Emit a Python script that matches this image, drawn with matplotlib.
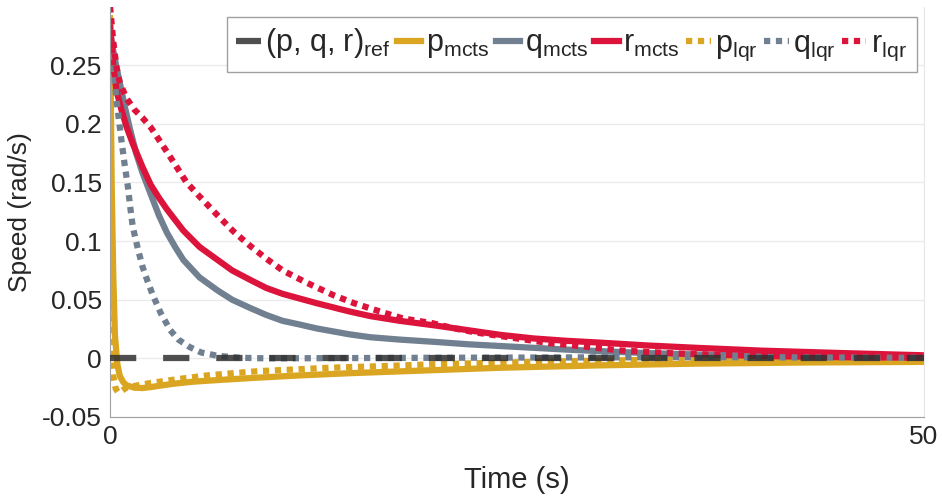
import matplotlib
matplotlib.use("Agg")
import matplotlib.pyplot as plt

plt.rcParams['font.family'] = ['Liberation Sans', 'DejaVu Sans']
plt.rcParams['mathtext.fontset'] = 'custom'
plt.rcParams['mathtext.rm'] = 'Liberation Sans'
plt.rcParams['mathtext.it'] = 'Liberation Sans'

# valores (tiempo en s, velocidad en rad/s)
t_ref = [0, 50]
v_ref = [0, 0]

t_p_mcts = [0, 0.05, 0.1, 0.2, 0.3, 0.45, 0.6, 0.8, 1.0, 1.5, 2, 2.5, 3.2, 4, 5, 6.6, 9,
            11.7, 15, 18, 21, 24, 27, 30, 36, 43, 50]
p_mcts = [0.29, 0.22, 0.15, 0.07, 0.02, -0.005, -0.015, -0.02, -0.023, -0.025, -0.0253,
          -0.0245, -0.023, -0.0215, -0.02, -0.0185, -0.0165, -0.0145, -0.0125, -0.011,
          -0.0095, -0.008, -0.007, -0.006, -0.0045, -0.0035, -0.003]

t_q_mcts = [0, 0.2, 0.4, 0.6, 0.9, 1.2, 1.6, 2, 2.5, 3, 3.5, 4, 4.5, 5.5, 6.6, 7.5, 8.6,
            9.6, 10.6, 11.6, 12.7, 14.7, 16, 17.8, 20, 22, 24, 26, 28, 30, 33, 36, 40, 45, 50]
q_mcts = [0.278, 0.262, 0.248, 0.235, 0.215, 0.197, 0.175, 0.158, 0.14, 0.122, 0.107,
          0.095, 0.084, 0.069, 0.058, 0.05, 0.043, 0.037, 0.032, 0.029, 0.0255, 0.0205,
          0.018, 0.016, 0.014, 0.012, 0.0105, 0.009, 0.0075, 0.0062, 0.0045, 0.0033,
          0.0022, 0.0013, 0.0008]

t_r_mcts = [0, 0.2, 0.4, 0.7, 1, 1.4, 2, 2.5, 3, 3.5, 4, 4.5, 5.5, 6.6, 7.5, 8.6, 9.6, 10.6,
            12.7, 14.7, 16, 17.8, 20, 22, 24, 26, 28, 30, 33, 36, 40, 45, 50]
r_mcts = [0.285, 0.25, 0.228, 0.212, 0.198, 0.183, 0.163, 0.148, 0.137, 0.127, 0.118,
          0.109, 0.095, 0.084, 0.075, 0.067, 0.06, 0.055, 0.047, 0.04, 0.036, 0.032, 0.028,
          0.024, 0.02, 0.017, 0.015, 0.0135, 0.011, 0.009, 0.0066, 0.0045, 0.0026]

t_p_lqr = [0, 0.05, 0.1, 0.2, 0.35, 0.5, 0.7, 1.0, 1.5, 2.5, 4, 6, 9, 13.5, 17, 20, 26,
           32, 40, 50]
p_lqr = [0.29, 0.12, 0.0, -0.015, -0.026, -0.029, -0.028, -0.025, -0.0235, -0.021,
         -0.018, -0.0145, -0.011, -0.008, -0.0065, -0.005, -0.003, -0.0015, -0.001, -0.0005]

t_q_lqr = [0, 0.2, 0.4, 0.55, 0.7, 0.9, 1.1, 1.25, 1.4, 1.7, 2, 2.3, 2.6, 3.1, 3.7, 4.2,
           4.9, 5.6, 6.6, 8, 9.6, 20, 35, 50]
q_lqr = [0.28, 0.25, 0.22, 0.203, 0.186, 0.165, 0.146, 0.128, 0.112, 0.094, 0.078,
         0.066, 0.055, 0.039, 0.024, 0.016, 0.0096, 0.005, 0.0022, 0.0005, 0.0, 0.0005,
         0.001, 0.0005]

t_r_lqr = [0, 0.1, 0.2, 0.4, 0.6, 1, 1.5, 2, 2.5, 3.5, 4.7, 5.5, 6.6, 7.6, 8.6, 9.6, 10.6,
           12, 13.7, 15, 16.8, 18, 19.8, 21, 22.5, 24, 25.8, 27, 28.5, 30, 31.3, 33, 35,
           37.5, 40, 45, 50]
r_lqr = [0.30, 0.285, 0.27, 0.248, 0.235, 0.222, 0.212, 0.205, 0.197, 0.176, 0.15, 0.138,
         0.122, 0.108, 0.096, 0.085, 0.075, 0.065, 0.054, 0.047, 0.039, 0.034, 0.030,
         0.026, 0.022, 0.019, 0.0154, 0.013, 0.011, 0.0088, 0.0068, 0.0055, 0.004, 0.003,
         0.002, 0.001, 0.0005]

naranja = '#DAA520'
gris = '#708090'
rojo = '#DC143C'
lw = 4.5
punteado = (1, 0.9)

fig = plt.figure(figsize=(9.42, 5), dpi=100)
ax = fig.add_axes([0.1168, 0.166, 0.864, 0.821])

h_pm, = ax.plot(t_p_mcts, p_mcts, color=naranja, lw=lw, label=r'p$_{\mathrm{mcts}}$')
h_qm, = ax.plot(t_q_mcts, q_mcts, color=gris, lw=lw, label=r'q$_{\mathrm{mcts}}$')
h_rm, = ax.plot(t_r_mcts, r_mcts, color=rojo, lw=lw, label=r'r$_{\mathrm{mcts}}$')
h_pl, = ax.plot(t_p_lqr, p_lqr, color=naranja, lw=lw, dashes=punteado, label=r'p$_{\mathrm{lqr}}$')
h_ql, = ax.plot(t_q_lqr, q_lqr, color=gris, lw=lw, dashes=punteado, label=r'q$_{\mathrm{lqr}}$')
h_rl, = ax.plot(t_r_lqr, r_lqr, color=rojo, lw=lw, dashes=punteado, label=r'r$_{\mathrm{lqr}}$')
h_ref, = ax.plot(t_ref, v_ref, color='#303030', alpha=0.85, lw=lw, dashes=(4.2, 4.3),
                 label=r'(p, q, r)$_{\mathrm{ref}}$', zorder=5)

ax.set_xlim(0, 50)
ax.set_ylim(-0.05, 0.3)
ax.set_xticks([0, 50])
ax.set_xticklabels(['0', '50'])
ax.set_yticks([-0.05, 0, 0.05, 0.1, 0.15, 0.2, 0.25])
ax.set_yticklabels(['-0.05', '0', '0.05', '0.1', '0.15', '0.2', '0.25'])
ax.tick_params(length=0, labelsize=19, colors='#262626', pad=6)
ax.yaxis.grid(True, color='#ebebeb', lw=1)
ax.set_axisbelow(True)

ax.spines['top'].set_visible(False)
ax.spines['left'].set_color('#a0a0a0')
ax.spines['bottom'].set_color('#a0a0a0')
ax.spines['right'].set_color('#e6e6e6')

ax.set_xlabel('Time (s)', fontsize=21, color='#262626', labelpad=12)
ax.set_ylabel('Speed (rad/s)', fontsize=19, color='#262626', labelpad=7)

leg = ax.legend(handles=[h_ref, h_pm, h_qm, h_rm, h_pl, h_ql, h_rl], ncol=7,
                loc='upper right', bbox_to_anchor=(0.9985, 0.99), fontsize=22,
                handlelength=0.8, handletextpad=0.15, columnspacing=0.2,
                borderpad=0.32, borderaxespad=0.2, fancybox=False, framealpha=1)
leg.get_frame().set_edgecolor('#a0a0a0')
leg.get_frame().set_linewidth(1)
for txt in leg.get_texts():
    txt.set_color('#262626')

fig.savefig('out.png', dpi=100)
